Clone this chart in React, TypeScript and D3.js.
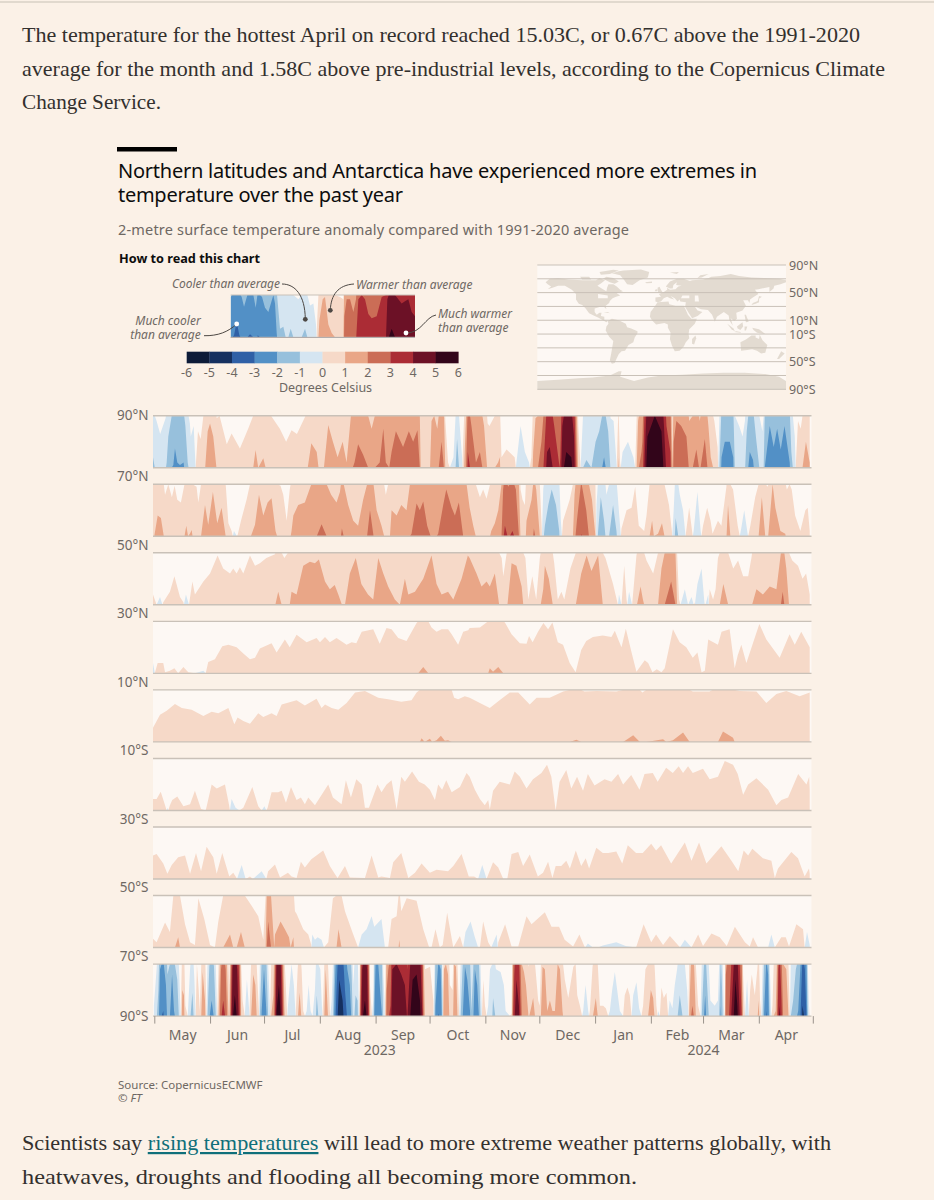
import React from "react";
import * as d3 from "d3";

type P = [number, number];

// ---- text ----
const introLines = [
  "The temperature for the hottest April on record reached 15.03C, or 0.67C above the 1991-2020",
  "average for the month and 1.58C above pre-industrial levels, according to the Copernicus Climate",
  "Change Service.",
];
const titleLines = [
  "Northern latitudes and Antarctica have experienced more extremes in",
  "temperature over the past year",
];
const subtitle = "2-metre surface temperature anomaly compared with 1991-2020 average";

// ---- legend ----
const rampColors = ["#0d1b38", "#15305f", "#2f60a6", "#5290c6", "#97c0dc", "#d5e5f1", "#f6d9c8", "#e9a687", "#cb6d56", "#ab2c35", "#6c1126", "#32051a"];
const rampTicks = [-6, -5, -4, -3, -2, -1, 0, 1, 2, 3, 4, 5, 6];
const mapLats = [90, 70, 50, 30, 10, -10, -30, -50, -70, -90];
const mapLabels = [90, 50, 10, -10, -50, -90];

// sample position along the little explainer strip, anomaly
const explainer: P[] = [[0,-2.95],[10,-3.05],[18,-3.37],[26,-3.05],[33,-2.95],[40,-2.72],[50,-3],[58,-3.07],[68,-3],[75,-2.7],[81,-3.05],[88,-3],[94,-2.95],[103,-2.7],[113,-2.6],[128,-3],[133,-2.8],[138,-2.1],[148,-1.2],[158,-1.25],[165,-1],[173,-1],[180,-1.2],[188,-1],[203,-0.9],[213,-1],[223,-1.2],[230,-1],[238,-0.75],[248,-0.8],[256,-0.3],[260,0.5],[266,1.4],[276,1.9],[283,1.95],[293,1.3],[303,1.1],[313,1],[328,0.95],[338,0.9],[341,2.5],[348,2.9],[358,2.9],[368,2.6],[376,2.9],[383,3.9],[393,4],[403,3.9],[413,3.55],[423,3.45],[438,3.5],[453,3.95],[466,4],[470,4.9],[483,5.2],[493,5],[503,4.9],[513,4.8],[523,4.85],[533,4.9],[543,4.6],[553,4.5]];

// ---- horizon bands: [days since 30 Apr 2023, anomaly in degrees C] ----
const lat90N70N: P[] = [[0,-1.2],[1,-1],[2,-0.9],[4,-0.65],[7,-0.95],[7.6,-1.1],[8.5,-1.6],[10.4,-2],[11.3,-2.05],[12.2,-2.37],[13.5,-2.1],[15,-2.05],[17,-2.1],[18,-1.8],[19.3,-1.1],[20.5,-0.85],[21,-0.6],[22.6,-0.8],[23.7,0],[25,0.7],[26.5,0.55],[28,1],[29,1],[30.4,1.7],[31.7,1.85],[33.5,1.6],[35.4,0.95],[37,1],[41,0.45],[43.7,0.66],[48.3,0.37],[53,0.76],[55.7,1],[57,1.34],[58.5,1],[61.3,1.18],[62.6,1],[65.6,1],[70.5,0.75],[74,0.5],[77,0.72],[80,0.65],[84.8,1],[86,1],[88,1.47],[91,1.3],[92,1],[95,1],[97.4,1.82],[100,1.5],[102.6,1.2],[105.4,1.5],[107.6,1.1],[110,2],[111,2],[112,2.1],[114,2.45],[116.8,2.25],[119.6,2],[121.5,1.75],[123.3,2],[126,2.1],[128,2.75],[129.4,2.1],[131.3,2],[132.6,2.3],[135,2.7],[139,2.4],[142.2,2.7],[144.6,2.5],[147,2.72],[148.3,2],[148.8,1],[154,1],[154.8,1.9],[156.3,2],[158,1.75],[160.4,2.5],[161.8,1.95],[162.5,0.9],[164,0.1],[167,-0.2],[169,-1.55],[170.5,-0.8],[171.8,-0.2],[172.4,0.5],[174,2],[175,3.3],[177,2.8],[179.5,2.1],[181.7,2.3],[184,1.8],[186,0.85],[187,0.8],[190,1],[191.8,1.1],[192.8,1.2],[193.7,0.2],[196.5,0.35],[198,0.3],[201,0.2],[202,-0.1],[204.3,-0.8],[206.7,-0.3],[209,-0.1],[210.3,0.2],[211.3,1.3],[212.6,1.95],[214,2],[215.9,2.5],[217,3],[219,4.3],[220.5,4.4],[223,3.8],[226,3],[226.4,3.2],[227.5,4.8],[229.7,5.3],[232.5,5.2],[234,4.6],[235,3],[236.4,0.8],[237.8,-0.1],[239,-1],[240.9,-1.15],[243.7,-1],[246,-1.5],[248,-1.7],[250.7,-2.2],[253,-1.7],[254.3,-0.95],[256,-0.9],[257.7,-0.05],[258.7,1.2],[259.6,0.1],[261,-0.3],[264,-0.5],[267,-0.2],[268,0],[269.6,1.9],[271.5,2.3],[272,2.5],[273.3,4.2],[274.8,5.6],[278.9,6],[282.6,5.7],[284,4.8],[285.4,3.8],[287.6,3.3],[288.7,1],[289.4,2.5],[290.9,2.9],[293.6,2.8],[296.5,2.6],[298,1.9],[300,2],[302,2.35],[303.9,1.9],[306.7,2.55],[308.7,1.8],[310,1.2],[312,0.9],[313.8,0.4],[315,-1.2],[316,-2.2],[317.8,-2.5],[320.6,-2.5],[322.5,-2.2],[323.4,-1],[325.8,-0.8],[327.7,-0.6],[329,-0.9],[330,-1.7],[331.7,-2.3],[333.5,-2.15],[335.4,-1.5],[337,-1],[338.7,-0.7],[339.4,-1],[340,-2],[342.8,-2.8],[345,-2.4],[346.9,-2.75],[348.9,-2.35],[351,-2.8],[353.9,-2.1],[354.8,-1.3],[356.7,-0.6],[357.2,0],[358.5,0.9],[360,0.75],[361,1],[362.9,1.5],[365,1.1]];

const lat70N50N: P[] = [[0,1],[0.7,1],[2.6,1.4],[4.4,1.35],[6,1],[6.7,0.8],[8.5,1],[10.5,0.75],[12,0.97],[13.5,0.7],[15.5,0.65],[17.5,1],[18.5,1.2],[19.5,1],[20.5,1.05],[21.5,1.12],[22,1],[24.2,0.95],[25.2,0.65],[26.7,1],[28.9,1.6],[30.7,1.22],[33.3,1.85],[35.7,1.25],[38.1,1.55],[40.4,1],[41.9,0.25],[43.7,0.1],[45,-0.1],[47,0.02],[48.9,0.3],[52,0.7],[53.9,1],[54.4,1],[56.7,1.22],[58.9,1.8],[61.3,1.4],[63.7,1.65],[65.9,1.73],[68.1,1.1],[69,1],[70.9,0.97],[72.4,0.8],[74.3,0.3],[76,0.9],[77,1.1],[78,1.4],[80.7,1.6],[84.4,1.65],[88,2],[91,2],[93.7,2.23],[96.5,2],[99,1.8],[102,1.65],[103.9,1.85],[105,2.15],[106.3,1.95],[108.5,1.6],[111.3,1.3],[114,1.2],[116.8,1.7],[119,2],[120.6,2.5],[122.4,2.05],[124.3,1.5],[127,1.2],[128.5,1],[129.4,0.8],[130.7,1],[131.7,1],[132.6,1.5],[135.4,1.4],[138,1.6],[140.9,1.5],[142.8,2],[143.7,2.05],[146.5,2.63],[148.3,2.5],[150.2,2.67],[152.4,2.2],[154.3,2],[157.6,2],[158.5,2.05],[161.3,2.6],[163,2.9],[166,2.55],[167.8,2.4],[170,2.65],[172.4,2],[174.3,2],[176,1.55],[178,1.2],[179.4,1],[181.7,0.75],[183.5,0.9],[185.4,0.72],[187,0.95],[188,1.1],[190,1.25],[191.9,1.5],[193.7,2],[194.6,2.9],[195.6,3.2],[197.4,2.95],[198.3,3],[199.8,3.1],[201.7,2.9],[203.4,2],[204.3,0.9],[205.4,0.7],[206.7,0.6],[207.6,1.3],[210.4,1.7],[211.7,2.15],[213,1.9],[215,1],[216,0.2],[216.9,-0.9],[217.8,-1.2],[219.7,-1.6],[221.6,-1.9],[224,-1.6],[225.8,-1.1],[226.7,-0.3],[227.9,0.3],[231.6,0.7],[233.4,1],[234.3,1.8],[235.6,2.3],[238,3.05],[240.8,2.5],[242.3,2],[244,1.7],[245.9,1],[246.5,-0.6],[247.4,-1.1],[248.9,-1.75],[250.7,-1.3],[252,-0.8],[253.5,-1],[255.7,-1.6],[257.6,-1.1],[258.7,-0.6],[260.4,0.15],[263.2,0.5],[266,0.55],[268,0.95],[270,0.2],[273,0.1],[274.3,0.4],[276,1],[277.4,1.3],[278.4,1],[280.7,1.05],[282.9,1.25],[284.3,1],[286.8,0.6],[288.4,0.1],[289.4,-0.5],[290.5,-1.35],[292.8,-0.8],[294.6,-0.5],[296,0],[298,0.55],[299.8,0.05],[300.5,-0.1],[302.6,-0.85],[304.4,-0.1],[305.7,0.2],[308,0.55],[309.9,0.3],[311,0.05],[314,0.3],[315.9,0.2],[317.2,0.55],[318.7,0.95],[319.6,1.6],[320.9,1],[322.4,0.9],[325,0.2],[326.7,-0.1],[328.6,-0.5],[330.5,-0.05],[332,0.2],[334.7,0.75],[336.6,1],[338.4,1.75],[340.3,1],[341.8,0.95],[344.4,2],[345.9,1.55],[348.7,1.1],[351.4,1.05],[352.3,0.9],[353.8,1],[355,0.9],[356.9,0.4],[359.8,0.1],[362.6,0.5],[363.9,0.55],[365,0.1]];

const lat50N30N: P[] = [[0,0.2],[2,0],[3.9,-0.15],[5.7,0.05],[9.4,0.25],[11.9,0.55],[15,0.15],[16.9,0.05],[18.3,-0.2],[20,0],[21.9,0.45],[23.3,0.2],[28,0.45],[31.7,0.6],[35.9,0.95],[39,0.7],[42.8,0.6],[44.6,0.7],[46.5,0.6],[48.3,0.72],[50.2,0.6],[53.9,0.95],[56.7,0.75],[59.4,0.8],[63,0.9],[67.8,0.97],[69.6,1.25],[71.5,1],[73,0.9],[75,1],[76,1],[77,1.25],[79.8,1.2],[83.5,1.75],[87.2,1.83],[90,1.8],[92.2,1.87],[95.6,1.45],[98.3,1.3],[101,1.38],[103,1.2],[105,1],[106.7,1],[109.4,1.6],[112.7,1.9],[115.8,1.4],[119.5,1.2],[122.4,1.1],[125.2,1.9],[128,1.6],[130.7,1.35],[134.4,1.1],[137.2,1],[140,1.5],[141.9,1.2],[145.6,1.25],[150.2,1.5],[154.8,1.95],[157.6,1.4],[160.4,1.2],[164,1.25],[166.9,1.1],[171.5,1.5],[175,1.95],[176,1.9],[179.8,1.6],[182.6,1.35],[185.4,1.45],[187.2,1.35],[190,1.6],[192.4,1],[193.8,0.9],[194.7,0.55],[196.6,1],[197,1],[199.3,1.8],[202,1.75],[204.9,1.35],[205.8,1],[207,0.9],[208.6,0.1],[210.8,0.55],[213,0.1],[215,0.9],[216.9,1.3],[217.8,1.75],[220,1.5],[222.2,1],[223,0.8],[225,0.1],[227,0.25],[228.6,0.1],[232,0.7],[235,1],[238,1.6],[241,1.95],[243.7,1.65],[247.4,1.95],[250,1],[251.5,0.9],[255.7,0.4],[258.4,0],[259,-0.2],[260.4,0],[261.9,0.75],[263.2,0.1],[264.6,-0.25],[266.3,0],[268.7,0.95],[271,1.35],[272.3,1.1],[273,1],[274.3,0.85],[278,0.6],[280.7,1],[282.6,1.7],[284.4,2],[288,2.45],[290.4,2],[291.3,1],[292.4,0.1],[295.6,-0.3],[297.4,0],[299.3,-0.15],[301,0.05],[302.6,-0.4],[304.9,-0.7],[306.7,0.05],[308.6,-0.2],[309.4,0.3],[311.3,0.1],[312.7,0.3],[314,0.9],[315,1],[317,1.4],[319.7,1],[322.5,0.7],[325.2,0.85],[328,0.55],[330.8,0.55],[332.6,0.9],[333,1],[335.4,1.3],[339,1.2],[342.8,1.35],[346.5,1.3],[349,2],[350,2.25],[352,1.7],[353.5,1],[355.3,0.85],[358.5,0.75],[361,0.5],[363,0.6],[365,0.2]];

const lat30N10N: P[] = [[0,-0.2],[1,0],[2.6,0.2],[5.7,0.2],[6.7,0.02],[9.4,0.05],[11.9,0.1],[14,0],[16.9,0.12],[19.6,0.02],[23.3,0],[28,-0.05],[29.3,0],[30.7,0.22],[34.4,0.27],[38.5,0.52],[41.9,0.55],[46.5,0.5],[50.2,0.38],[53.9,0.27],[56.7,0.3],[59.4,0.48],[65.9,0.58],[68.7,0.4],[73.3,0.65],[76,0.5],[79.8,0.74],[85.4,0.6],[90.9,0.68],[92.8,0.6],[95.6,0.7],[98.3,0.6],[102,0.68],[107.6,0.55],[110.4,0.6],[113,0.58],[116,0.8],[122.4,0.85],[126,0.57],[129.8,0.87],[132.6,0.85],[136.3,0.68],[140.9,0.62],[146.5,0.97],[147.4,1],[150.2,1.12],[153,1],[154.8,0.88],[157.6,0.8],[160.4,0.85],[164,0.85],[166,0.75],[169.6,0.55],[172.4,0.8],[175.2,0.83],[176,0.87],[181.7,0.88],[186.3,1],[187.2,1.1],[189,1.03],[191.9,1.12],[194.7,1],[195.6,0.98],[199.3,0.75],[203.9,0.58],[207.6,0.57],[209,0.72],[211,0.6],[214,0.8],[217,0.97],[219.6,0.85],[222,0.98],[225,0.6],[227.9,0.55],[231.6,0.2],[234.9,0.02],[238,0.45],[240.8,0.62],[244.5,0.7],[250,0.73],[254.8,0.7],[256.7,0.82],[258.6,0.65],[260.4,0.5],[262.8,0.86],[266,0.4],[268.7,0.03],[273.3,0.25],[275.2,0.2],[277.6,0.02],[280,0.08],[282.6,0.02],[284.4,0.1],[289,0.85],[292.7,0.6],[296.4,0.5],[300,0.3],[302.6,0.4],[304.9,0.02],[306.7,0.05],[308.6,0.65],[314,0.55],[316,0.8],[320.5,0.85],[323.3,0.1],[325,0.35],[327,0.55],[329.8,0.2],[337,0.95],[340.9,0.65],[348.3,0.3],[353.8,0.75],[356.7,0.55],[360.3,0.8],[365,0.5]];

const lat10N10S: P[] = [[0,0.27],[3.9,0.52],[7.6,0.6],[12.2,0.73],[16,0.65],[21.5,0.62],[28,0.5],[32.6,0.58],[36.3,0.55],[41.9,0.65],[45.2,0.34],[47,0.47],[50.2,0.4],[53.9,0.35],[58.5,0.55],[61.3,0.48],[65.9,0.55],[68.7,0.5],[71.5,0.72],[79.8,0.8],[84.4,0.7],[90.9,0.83],[93.7,0.65],[95.6,0.72],[99.3,0.65],[103,0.62],[107.6,0.75],[112.3,0.95],[117.8,0.98],[125.2,0.85],[130.7,0.82],[138,0.77],[143.7,0.8],[146.5,0.95],[148.3,1],[149.3,1.07],[151,1],[153.9,1.06],[155.2,1],[157.6,1.03],[160,1.12],[162.2,1.02],[164,1.03],[166,1],[167.4,0.85],[169.6,0.82],[173.3,0.88],[176,0.85],[181.7,0.75],[187.2,0.65],[191.9,0.78],[198.3,0.95],[203,0.95],[209.4,0.72],[213.2,0.85],[220.5,0.85],[228,0.97],[231.6,1],[235.3,1.04],[238,1],[239.8,0.97],[246.5,0.98],[257.5,0.97],[261.3,1],[266.9,1.13],[270.6,1],[272,0.95],[274.2,1],[283.5,1.05],[285.3,1],[289,1.03],[294.6,1.18],[298.3,1],[300,0.97],[309.3,0.97],[311,1],[314,1],[316.8,1.2],[322.4,1.08],[323.3,1],[326,0.98],[335.4,0.97],[340.9,0.75],[346.5,0.92],[352,0.98],[359.4,0.88],[365,0.95]];

const lat10S30S: P[] = [[0,0.22],[2,0.22],[4.3,0.36],[6.7,0.1],[8,-0.05],[9.4,0.1],[10.7,0.2],[13.5,0.27],[16.9,0.08],[20.6,0.12],[23.3,0.38],[26.7,0.03],[29.3,0],[32.6,0.5],[35.4,0.42],[40,0.5],[42.2,0.12],[43.7,-0.22],[45.9,-0.05],[50.2,0.05],[55.2,0.45],[58.5,0.08],[60.4,0],[61.9,-0.08],[63.7,0.05],[65.9,0.35],[69.6,0.35],[71.5,0.38],[73.9,0.15],[76.7,0.45],[79.8,0.2],[82.2,0.25],[84.4,0.12],[86.3,0.25],[90,0.1],[97.4,0.5],[100,0.25],[104.8,0.12],[107.2,0.58],[110,0.25],[113,0.6],[116,0.5],[117.8,0.05],[120,0.05],[124.8,0.5],[127,0.35],[129.8,0.5],[132.6,0.58],[135.4,0.02],[138,0.65],[140,0.55],[144,0.75],[147.8,0.55],[151,0.5],[153.9,0.4],[156.7,0.2],[158.5,0.5],[160.7,0.4],[163,0.58],[166,0.35],[170.6,0.45],[174.3,0.72],[176,0.65],[178.9,0.4],[181.7,0.22],[184.4,0.1],[186.3,0.2],[187.2,0.02],[189,0.38],[192.7,0.55],[198.3,0.5],[201,0.75],[203.9,0.65],[207.6,0.42],[211.2,0.6],[215.9,0.72],[219,0.88],[221.4,0.65],[223.8,0],[226,0.55],[229.7,0.78],[232.5,0.42],[235.7,0.65],[239,0.38],[241.7,0.7],[245.4,0.48],[251,0.6],[254.8,0.55],[258.5,0.7],[261.3,0.5],[265.8,0.68],[270.4,0.4],[273.2,0.7],[277.8,0.72],[280.5,0.55],[285.2,0.82],[288.9,0.72],[292.2,0.85],[294.6,0.72],[297.4,0.85],[300,0.72],[305.7,0.8],[309.4,0.6],[314,0.65],[317.8,0.95],[322.4,0.88],[325,0.7],[328,0.3],[330.8,0.5],[335.4,0.62],[341.9,0.4],[346.5,0.1],[349.3,0.2],[353,0.25],[358.6,0.7],[363.2,0.5],[364.7,0.65],[365,0.4]];

const lat30S50S: P[] = [[0,0.45],[2,0.48],[5.7,0.3],[8,0.1],[10.4,0.27],[14,0.42],[17.8,0.45],[20.6,0.1],[23.9,0.5],[26.7,0.15],[29.8,0.62],[33.5,0.42],[35.4,0.1],[38.5,0.5],[42.4,0.05],[44.6,0.12],[46.5,0.02],[49.3,-0.27],[51.5,0],[53.9,0.05],[60.4,-0.15],[63,0],[64,0.15],[67.8,0.28],[70.6,0.03],[75,0.12],[77,0.05],[79.8,0.02],[82.2,0.33],[84.4,0.22],[88,0.38],[94.6,0.55],[98.3,0.25],[101,0.1],[102.6,0.02],[106.7,0.25],[109.4,0.03],[117.8,0.02],[121.5,0.45],[125.2,0.03],[127,0.05],[131.7,0.02],[133.5,0.32],[138,0.5],[141.9,0.02],[145.6,0.12],[149.3,0.3],[153.9,0.12],[157.6,0.18],[164,0.15],[166.9,0.25],[171.5,0.48],[175.5,0.05],[178.5,0.05],[180.7,0],[183,-0.27],[185.4,0],[189,0.32],[191.9,0.22],[194.7,0],[196.9,0],[199.3,0.48],[203,0.52],[205.7,0.25],[209.4,0.47],[213.9,0.05],[216.8,0.12],[219.6,0.33],[222,0.02],[223.8,0.25],[226.9,0.25],[229.7,0.35],[231.7,0.2],[235,0.55],[238,0.25],[240.5,0.4],[242.4,0.2],[246.4,0.6],[250,0.5],[253,0.5],[257.5,0.53],[260.8,0.3],[263.9,0.65],[268.5,0.5],[272.2,0.5],[276.9,0.68],[279.6,0.55],[282.4,0.65],[288,0.3],[295.6,0.7],[299.3,0.35],[303.5,0.7],[307.6,0.3],[315.9,0.63],[321.5,0.35],[325.3,0.15],[328.3,0.55],[330.8,0.45],[333.1,0.58],[339,0.4],[343.7,0.35],[345.6,0.02],[347.4,0.2],[354.8,0.52],[358.5,0.4],[362.2,0.05],[364.6,0.2],[365,0.1]];

const lat50S70S: P[] = [[0,0.17],[2,0.1],[6.7,0.48],[9.4,0.3],[11.3,1],[12.2,1],[14,1.2],[15,1],[17.8,0.45],[20.6,0.1],[23.3,0.05],[25.2,0.95],[28.5,0.55],[31.7,0.05],[34.4,0],[36.3,0.5],[39,1],[42.8,1.25],[44.6,1],[46.5,1],[48.9,1.3],[51,1],[54.9,0.8],[58.5,0.6],[61.3,0.15],[62.6,1],[63.2,2],[64,2.5],[65.6,2],[67.4,1],[67.8,1.25],[70.9,1.5],[73.3,1.35],[75.6,1.2],[76.5,1],[78,1.2],[78.9,0.7],[79.8,0.65],[83.5,0.35],[86.3,0.25],[88,0.05],[88.5,-0.25],[90,-0.15],[91.5,-0.2],[93.7,-0.15],[95,0],[97.4,0.1],[100,0.95],[102,1],[103.1,1.35],[104.8,1],[106.7,0.7],[111.3,0.25],[114,0],[116,-0.25],[118.7,-0.35],[121.5,-0.6],[123,-0.4],[127,-0.55],[128.9,0],[130.7,0],[132.6,0.55],[135.4,0.6],[136.9,1.15],[138,0.7],[141,0.95],[146.5,0.9],[150.2,0.35],[153.5,0],[154.8,0],[157,0.35],[159.4,0],[161,0.05],[163.5,0.67],[166.9,0],[170.6,0.22],[172.4,0],[173.7,-0.3],[176.5,-0.5],[178.9,-0.2],[180.7,0],[181.7,0],[183.5,0.5],[186.3,0.1],[188,0],[191,-0.25],[191.9,0.1],[195.7,0.45],[199.3,0.02],[203,0.02],[207.6,0.6],[210.4,0.45],[217.8,0.68],[221.5,0.4],[225.7,0.4],[228.8,0.15],[233.5,0.02],[237,0.25],[239.8,0.02],[241.7,-0.08],[244.5,0],[247.3,0],[250,-0.04],[257.5,-0.1],[262.7,-0.03],[268.5,0],[272.7,0.45],[276.9,0.1],[279.6,0.25],[283.5,0.05],[287.3,0.22],[292.5,0.02],[295.6,-0.15],[299.3,0],[303,0.25],[305.7,0.03],[310.4,0.27],[315,0.2],[318.9,0.03],[323.4,0.4],[329,0.1],[331.7,0.02],[333.5,0.2],[336.3,0],[341.9,0],[343.7,-0.25],[345.6,0],[349.2,0.2],[351.7,0.2],[353.5,0.02],[357.6,0.45],[361.3,0.35],[362.2,0],[363.5,-0.3],[365,-0.05]];

const lat70S90S: P[] = [[0.5,-0.2],[2,-0.9],[3,-1.5],[3.9,-2.9],[5.7,-3.1],[7.2,-2.6],[8,-1.8],[9.4,-2],[10.6,-2.8],[11.7,-2.1],[13.5,-1.7],[14.6,-0.8],[15.4,0],[16.3,1.5],[17.2,1.4],[18,0.2],[19.3,0],[20.6,-0.9],[21.9,-1.45],[23,-0.7],[23.7,0],[24.4,1],[25.4,0.5],[26,0.1],[27.6,1.85],[28.9,1.3],[29.8,0],[30.2,-0.9],[31.3,-1.95],[32.6,-2.3],[33.9,-1.95],[34.8,-1.1],[35.7,0],[36.9,1.6],[37.8,2.9],[39,3.3],[40.4,2.9],[41.5,1.5],[42.4,0.6],[43.3,3],[44.2,4.9],[45.5,5.4],[46.8,4.9],[48,3.5],[49,1],[49.8,0.3],[51,0],[52.2,-0.7],[53.5,-0.1],[54.4,0.9],[55.7,1.8],[56.9,1.6],[58,0.7],[58.9,0.1],[59.4,-1],[60.4,-2.1],[61.7,-2.9],[63,-2.1],[64,-1],[65,-0.1],[65.7,1],[66.9,1.4],[67.8,3],[68.7,5.1],[70,5.6],[71,5],[72,3.3],[73,1.2],[74.3,0.2],[75,-0.2],[77,-1],[78.3,-0.6],[79.3,0],[80.4,0.9],[81.5,1.45],[82.6,0.9],[83.5,0.1],[85.4,-0.1],[86.5,-0.6],[87.6,-0.1],[88.7,0],[90,-0.5],[91,-1.4],[91.9,-1],[93,-0.9],[94,-0.1],[94.6,0.3],[96,1.9],[97.4,0.9],[98.3,0.1],[99.3,-0.3],[100.2,-1.2],[101,-2.5],[102,-3.5],[103.5,-4.7],[105.4,-4.3],[106.7,-3.5],[108,-2.9],[109.4,-2.6],[110.4,-1.8],[111.3,-0.6],[112.6,-1.4],[113.7,-1.3],[114.4,-0.2],[114.8,0.5],[115.4,3],[116.3,4.9],[117.8,5.3],[119,4.9],[120,3],[120.6,0.6],[121.5,0.1],[122.4,-0.3],[123,-2],[123.7,-3],[125.2,-3],[126.2,-2.5],[127.3,-2],[128,-0.8],[128.7,-0.3],[129.3,1],[129.9,2.5],[130.8,2.9],[132,3.2],[133,4.9],[135.4,5],[138,4.8],[140,4.6],[141.3,3.9],[142.8,4.9],[144.3,5.7],[146.5,5.8],[148.4,5.3],[149.7,4],[150.2,2.5],[151.2,0.9],[154,0.95],[155.8,0.3],[156.3,-0.6],[157,-2.2],[158.6,-3.05],[159.9,-2.9],[160.8,-1.5],[161,-0.1],[161.7,1.9],[162.8,2],[164,1.8],[165,0.6],[166.5,0.5],[167.4,2],[168.4,1.95],[169.3,0.9],[170.2,0],[171,-1],[171.9,-1.8],[173.4,-2.95],[174.7,-2.7],[176.2,-2.1],[177,-1.1],[178,-1.9],[178.9,-2.9],[180.2,-2.6],[181.3,-1.9],[182,-1],[182.8,0],[183.6,0.7],[184.5,0.2],[186.3,-0.2],[187.3,-0.9],[188.6,-1],[189,-1.35],[190.6,-0.9],[193.2,-0.85],[195,-0.6],[196,-0.1],[198.4,0],[199.3,0.05],[200.2,3],[200.8,3.8],[202,4.7],[203.4,4.2],[204.3,3],[205,2],[206.2,1.85],[207.3,1.6],[208.8,0.95],[210.4,1.2],[211.3,1.35],[212.6,0.9],[214.1,0.3],[215,0.2],[215.6,1],[216.5,1.95],[217.8,1.9],[219.1,1.1],[220.6,1.3],[222,1.1],[223.4,1.1],[224.9,2],[226.2,1.9],[227.6,1.1],[228.9,0.7],[230.8,0.35],[233.6,0.95],[234.9,1],[235.8,0.4],[237.3,0.2],[239.1,-0.1],[240.4,-0.6],[241.9,-0.1],[242.8,0.1],[244.3,0.95],[246.1,1.35],[247.2,1],[248.4,0.2],[250.2,0.2],[251.7,0.15],[253,0],[253.9,-0.1],[255.2,-0.5],[256.7,-0.85],[258,-0.5],[259.5,-0.1],[261.3,0],[262.2,0.4],[263.7,0.55],[265,0.4],[266,0],[266.9,-0.4],[268.7,-0.65],[270.2,-0.15],[271.5,0],[272.4,0.2],[273.7,0.9],[275.2,1],[276.7,1.5],[278,1.35],[278.9,0.9],[279.8,0.2],[280.8,-0.1],[281.7,0],[282.6,0.55],[283.9,0.35],[285.4,0.45],[286.3,0],[287.2,-0.3],[288.7,-0.15],[290,-0.6],[291.3,-0.9],[292.8,-1.4],[294.3,-1],[295.6,-1],[296.9,-0.5],[297.6,0],[298,1],[298.9,1.95],[299.8,2.2],[300.8,1.95],[301.7,1],[303,0.2],[304.3,0],[305,-1],[306.1,-1.9],[306.9,-2.4],[308,-1.6],[308.9,-1],[309.8,-0.3],[312.2,-0.2],[314,-0.3],[314.7,-1],[315.6,-2.2],[316.3,-1.5],[317.2,-0.2],[317.8,0.1],[318.4,2.8],[319,3],[320.2,3],[321.5,4.1],[322.8,5],[323.7,5.7],[324.8,5.2],[326,4.1],[327.2,3],[328,0.8],[328.9,0.1],[330.2,-0.7],[331,-0.1],[331.9,0.5],[332.8,0.8],[334.5,0.4],[335.9,0.9],[336.7,1.3],[337.4,0.3],[338.1,0],[338.7,-0.8],[339.6,-2],[340.9,-3.1],[341.9,-2.8],[342.8,-1],[343.5,-0.1],[344.3,0.2],[345,1],[346.1,1.1],[346.9,2.2],[347.6,3.9],[348.4,4.2],[349.3,3.3],[350.2,2],[352,1.9],[353.2,1],[353.9,0.1],[354.5,-1],[355.8,-1.3],[357.3,-1.9],[358.6,-2.1],[359.9,-3],[361,-4.2],[362.3,-3.9],[363.2,-3],[364.1,-0.8],[365,0.2]];

const bandSeries = [lat90N70N, lat70N50N, lat50N30N, lat30N10N, lat10N10S, lat10S30S, lat30S50S, lat50S70S, lat70S90S];
const bandEdgeLabels = ["90°N", "70°N", "50°N", "30°N", "10°N", "10°S", "30°S", "50°S", "70°S"];

// ---- time axis ----
const startDate = new Date(2023, 3, 30);
const monthNames = ["May", "Jun", "Jul", "Aug", "Sep", "Oct", "Nov", "Dec", "Jan", "Feb", "Mar", "Apr"];
const monthStarts = d3.timeMonths(new Date(2023, 4, 1), new Date(2024, 4, 2));
const yearLabels = [{ year: "2023", date: new Date(2023, 8, 3) }, { year: "2024", date: new Date(2024, 2, 1) }];

// ---- map land, [lon, lat] ----
const land: P[][] = [
  [[-168,65],[-162,70],[-150,71],[-135,69],[-115,68],[-95,68],[-90,71],[-82,68],[-87,64],[-93,60],[-85,55],[-80,52],[-79,57],[-77,62],[-70,62],[-65,59],[-60,54],[-56,52],[-65,49],[-60,46],[-66,44],[-71,42],[-75,38],[-76,35],[-81,31],[-80,26],[-82,28],[-84,30],[-90,29],[-97,27],[-97,22],[-94,18],[-90,21],[-87,21],[-88,16],[-83,15],[-83,10],[-78,9],[-80,7],[-85,10],[-92,14],[-97,16],[-105,20],[-110,27],[-115,32],[-120,34],[-124,40],[-124,48],[-130,54],[-140,60],[-150,60],[-158,57],[-165,55],[-160,59],[-165,62]],
  [[-80,73],[-70,71],[-62,66],[-68,63],[-75,65],[-85,70]],
  [[-90,80],[-70,83],[-62,82],[-75,77],[-88,76]],
  [[-118,73],[-105,73],[-102,69],[-115,69]],
  [[-55,82],[-30,83.5],[-18,80],[-20,72],[-32,68],[-42,61],[-50,62],[-54,68],[-60,75],[-72,78],[-62,81]],
  [[-84,22],[-75,20],[-78,22]],
  [[-78,9],[-72,12],[-62,10],[-52,5],[-50,0],[-44,-2],[-35,-6],[-35,-9],[-39,-15],[-41,-22],[-48,-26],[-53,-34],[-58,-35],[-62,-39],[-65,-45],[-68,-52],[-72,-53],[-75,-48],[-73,-38],[-70,-20],[-76,-14],[-81,-5],[-80,1],[-77,5]],
  [[-6,36],[10,37],[11,33],[20,31],[32,31],[35,25],[38,18],[43,12],[51,12],[48,5],[40,-3],[39,-10],[40,-16],[35,-22],[32,-28],[26,-34],[19,-35],[15,-27],[12,-17],[13,-8],[9,-1],[9,4],[4,6],[-8,4],[-14,10],[-17,15],[-16,22],[-10,30]],
  [[49,-12],[50,-16],[47,-25],[44,-24],[44,-17]],
  [[-9,37],[-9,43],[-1,44],[-4,48],[3,51],[8,54],[8,57],[12,54],[20,55],[24,59],[29,60],[21,61],[22,65],[17,61],[16,56],[12,56],[6,59],[12,66],[22,70],[32,70],[41,67],[44,68],[60,69],[68,71],[72,73],[85,74],[100,77],[112,74],[130,72],[150,71],[170,70],[180,68],[180,65],[172,62],[163,60],[162,56],[156,51],[156,58],[140,55],[135,54],[140,48],[132,43],[128,40],[127,35],[125,39],[118,39],[122,31],[117,24],[108,21],[109,12],[105,9],[100,13],[103,2],[98,10],[97,17],[90,22],[80,15],[77,8],[73,18],[67,25],[57,26],[52,28],[48,30],[52,24],[59,22],[52,16],[44,13],[39,21],[34,29],[35,36],[27,37],[26,40],[23,37],[19,42],[13,45],[18,40],[12,42],[8,44],[3,42],[-1,37],[-6,36]],
  [[-5,50],[1,51],[-2,56],[-3,58.5],[-6,57]],
  [[-10,52],[-6,52],[-6,55],[-9,54.5]],
  [[-24,65],[-14,66],[-14,64],[-22,63.5]],
  [[130,32],[136,34],[141,36],[141,41],[145,44],[141,45],[139,38],[132,35]],
  [[52,71],[56,75],[68,77],[58,72]],
  [[12,79],[25,80],[22,77]],
  [[95,5],[104,-2],[106,-6],[101,-3]],
  [[109,1],[117,7],[118,1],[114,-4],[110,-2]],
  [[105,-7],[115,-8],[114,-7],[108,-6]],
  [[120,1],[124,1],[122,-5],[120,-5]],
  [[131,-1],[141,-3],[150,-10],[142,-9],[138,-8],[133,-4]],
  [[120,18],[122,18],[126,8],[122,7]],
  [[114,-22],[122,-18],[130,-12],[136,-12],[136,-15],[141,-17],[142,-11],[146,-19],[153,-26],[150,-37],[144,-38],[138,-34],[131,-32],[124,-33],[115,-34]],
  [[173,-35],[178,-38],[170,-46],[167,-46]],
  [[-180,-78],[-150,-76],[-120,-74],[-100,-73],[-75,-70],[-62,-64],[-58,-64],[-60,-72],[-40,-78],[-20,-73],[0,-70],[30,-69],[60,-67],[90,-66],[120,-66],[150,-68],[170,-72],[180,-78],[180,-90],[-180,-90]],
];
const inlandWater: P[][] = [
  [[28,42],[40,42],[40,46],[30,46]],
  [[48,37],[54,37],[53,46],[48,46]],
  [[-92,42],[-78,42],[-78,46],[-92,48]],
];

// ---- style ----
const PAGE = "#fbf1e7";
const BAND_BG = "#fdf8f4";
const RULE = "#c9c1b8";
const GREY = "#6e6863";
const SANS = "'Noto Sans', 'Open Sans', sans-serif";
const SERIF = "'Liberation Serif', serif";

const levels = d3.range(6);
const posColor = (k: number) => rampColors[6 + k];
const negColor = (k: number) => rampColors[5 - k];

function Horizon({ id, data, x, top, height }: { id: string; data: P[]; x: d3.ScaleLinear<number, number>; top: number; height: number }) {
  const sorted = React.useMemo(() => [...data].sort((a, b) => d3.ascending(a[0], b[0])), [data]);
  const y = d3.scaleLinear([0, 1], [top + height, top]);
  const layer = (sign: number, k: number) =>
    d3.area<P>().x((d) => x(d[0])).y0(top + height).y1((d) => y(sign * d[1] - k))(sorted) ?? "";
  return (
    <g>
      <clipPath id={id}>
        <rect x={x.range()[0]} y={top} width={x.range()[1] - x.range()[0]} height={height} />
      </clipPath>
      <rect x={x.range()[0]} y={top} width={x.range()[1] - x.range()[0]} height={height} fill={BAND_BG} />
      <g clipPath={`url(#${id})`}>
        {levels.map((k) => (
          <path key={`p${k}`} d={layer(1, k)} fill={posColor(k)} />
        ))}
        {levels.map((k) => (
          <path key={`n${k}`} d={layer(-1, k)} fill={negColor(k)} />
        ))}
      </g>
    </g>
  );
}

function Connector({ d, cx, cy, dot }: { d: string; cx: number; cy: number; dot: string }) {
  return (
    <g>
      <path d={d} fill="none" stroke="#4d4844" strokeWidth={1} />
      <circle cx={cx} cy={cy} r={2.4} fill={dot} />
    </g>
  );
}

export default function App() {
  const x = d3.scaleLinear([0, 366], [153, 811.5]);
  const BAND_H = 52;
  const BAND_TOP = 415.7;
  const PITCH = 68.55;
  const baseLast = BAND_TOP + 8 * PITCH + BAND_H;
  const xDate = (dt: Date) => x(d3.timeDay.count(startDate, dt));

  const rampX = d3.scaleLinear([-6, 6], [186.7, 458.3]);
  const stripX = d3.scaleLinear([0, 553], [230.7, 415]);
  const lonX = d3.scaleLinear([-180, 180], [537.3, 786]);
  const latY = d3.scaleLinear([90, -90], [265, 389.3]);
  const landLine = d3.line<P>().x((d) => lonX(d[0])).y((d) => latY(d[1])).curve(d3.curveLinearClosed);

  return (
    <svg width={934} height={1200} viewBox="0 0 934 1200" style={{ position: "absolute", left: 0, top: 0, display: "block" }}>
      <rect width={934} height={1200} fill={PAGE} />
      <line x1={0} x2={934} y1={2} y2={2} stroke="#d9d0c6" strokeWidth={1.5} />

      {/* intro */}
      <g fontFamily={SERIF} fontSize={22} fill="#33302e">
        <text x={22} y={42} textLength={838} lengthAdjust="spacingAndGlyphs">{introLines[0]}</text>
        <text x={22} y={76} textLength={863} lengthAdjust="spacingAndGlyphs">{introLines[1]}</text>
        <text x={22} y={109} textLength={139} lengthAdjust="spacingAndGlyphs">{introLines[2]}</text>
      </g>

      {/* heading */}
      <rect x={117} y={147} width={60} height={4.5} fill="#000" />
      <g fontFamily={SANS} fill="#0d0d0d" fontSize={20}>
        <text x={118} y={178} textLength={639} lengthAdjust="spacing">{titleLines[0]}</text>
        <text x={118} y={202} textLength={285} lengthAdjust="spacing">{titleLines[1]}</text>
      </g>
      <text x={118} y={235} fontFamily={SANS} fontSize={14.5} fill={GREY} textLength={511} lengthAdjust="spacing">{subtitle}</text>
      <text x={119} y={263} fontFamily={SANS} fontSize={12.7} fontWeight={700} fill="#0d0d0d">How to read this chart</text>

      {/* explainer strip */}
      <Horizon id="strip" data={explainer} x={stripX} top={295} height={42.3} />
      <line x1={230.7} x2={415} y1={295} y2={295} stroke={RULE} strokeWidth={1} />
      <line x1={230.7} x2={415} y1={337.3} y2={337.3} stroke={RULE} strokeWidth={1} />
      <g fontFamily={SANS} fontSize={12} fontStyle="italic" fill={GREY}>
        <text x={280} y={288} textAnchor="end">Cooler than average</text>
        <text x={356} y={289}>Warmer than average</text>
        <text textAnchor="end">
          <tspan x={200.7} y={325}>Much cooler</tspan>
          <tspan x={200.7} y={339}>than average</tspan>
        </text>
        <text>
          <tspan x={438} y={318}>Much warmer</tspan>
          <tspan x={438} y={332}>than average</tspan>
        </text>
      </g>
      <Connector d="M282,284 C295,284 305,295 305.3,319" cx={305.3} cy={319.3} dot="#4d4844" />
      <Connector d="M354,284 C338,285 331,295 330.3,310" cx={330.3} cy={310.3} dot="#4d4844" />
      <Connector d="M204,335.7 C218,336 228,332 236.7,324" cx={236.7} cy={324} dot="#fff" />
      <Connector d="M436,315 C425,317 422,333 406,333" cx={406} cy={333} dot="#fff" />

      {/* colour key */}
      {rampColors.map((c, i) => (
        <rect key={c} x={rampX(i - 6)} y={351.7} width={rampX(i - 5) - rampX(i - 6) + 0.3} height={11.6} fill={c} />
      ))}
      <g fontFamily={SANS} fontSize={12.5} fill={GREY} textAnchor="middle">
        {rampTicks.map((t) => (
          <text key={t} x={rampX(t)} y={377}>{t}</text>
        ))}
        <text x={325.5} y={392}>Degrees Celsius</text>
      </g>

      {/* map */}
      <rect x={537.3} y={265} width={248.7} height={124.3} fill={BAND_BG} />
      {land.map((poly, i) => (
        <path key={i} d={landLine(poly) ?? ""} fill="#e3dbd1" />
      ))}
      {inlandWater.map((poly, i) => (
        <path key={i} d={landLine(poly) ?? ""} fill={BAND_BG} />
      ))}
      {mapLats.map((lat) => (
        <line key={lat} x1={537.3} x2={786} y1={latY(lat)} y2={latY(lat)} stroke={RULE} strokeWidth={1} />
      ))}
      <g fontFamily={SANS} fontSize={12.5} fill={GREY}>
        {mapLabels.map((lat) => (
          <text key={lat} x={789} y={latY(lat) + 4.5}>{`${Math.abs(lat)}°${lat > 0 ? "N" : "S"}`}</text>
        ))}
      </g>

      {/* horizon bands */}
      {bandSeries.map((series, i) => {
        const top = BAND_TOP + i * PITCH;
        return (
          <g key={i}>
            <Horizon id={`band${i}`} data={series} x={x} top={top} height={BAND_H} />
            <line x1={153} x2={811.5} y1={top} y2={top} stroke={RULE} strokeWidth={1.4} />
            <line x1={153} x2={811.5} y1={top + BAND_H} y2={top + BAND_H} stroke={RULE} strokeWidth={1.4} />
          </g>
        );
      })}
      <g fontFamily={SANS} fontSize={13.5} fill={GREY} textAnchor="end">
        {bandEdgeLabels.map((lab, i) => (
          <text key={lab} x={148.5} y={i === 0 ? 420 : BAND_TOP + i * PITCH - 3.2}>{lab}</text>
        ))}
        <text x={148.5} y={1021}>90°S</text>
      </g>

      {/* time axis */}
      {monthStarts.map((m) => (
        <line key={+m} x1={xDate(m)} x2={xDate(m)} y1={baseLast} y2={baseLast + 7.5} stroke="#9a938c" strokeWidth={1} />
      ))}
      <g fontFamily={SANS} fontSize={14} fill={GREY} textAnchor="middle">
        {monthNames.map((name, i) => (
          <text key={name} x={(xDate(monthStarts[i]) + xDate(monthStarts[i + 1])) / 2} y={1040}>{name}</text>
        ))}
        {yearLabels.map((l) => (
          <text key={l.year} x={xDate(l.date)} y={1055}>{l.year}</text>
        ))}
      </g>

      {/* source */}
      <text x={118} y={1089} fontFamily={SANS} fontSize={11.5} fill={GREY}>Source: CopernicusECMWF</text>
      <text x={118} y={1102} fontFamily={SANS} fontSize={11.5} fontStyle="italic" fill={GREY}>© FT</text>

      {/* closing paragraph */}
      <g fontFamily={SERIF} fontSize={22} fill="#33302e">
        <text x={22} y={1150} textLength={809} lengthAdjust="spacingAndGlyphs">
          Scientists say <tspan fill="#0f6f7a" textDecoration="underline">rising temperatures</tspan> will lead to more extreme weather patterns globally, with
        </text>
        <text x={22} y={1184} textLength={615} lengthAdjust="spacingAndGlyphs">heatwaves, droughts and flooding all becoming more common.</text>
      </g>
    </svg>
  );
}
